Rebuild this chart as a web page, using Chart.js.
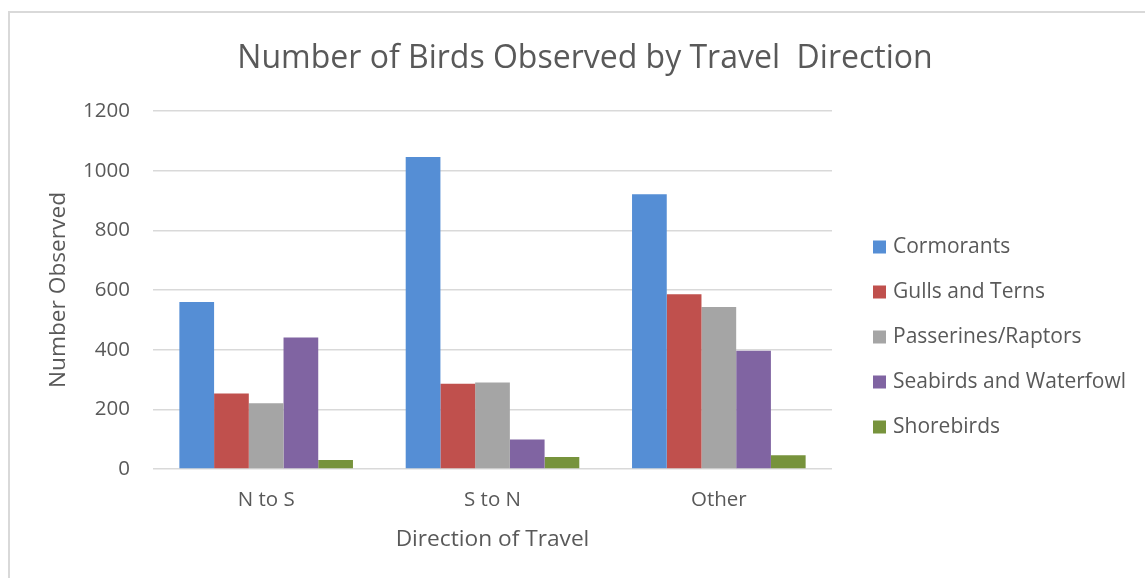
<!DOCTYPE html>
<html>
<head>
<meta charset="utf-8">
<title>Number of Birds Observed by Travel Direction</title>
<script src="https://cdn.jsdelivr.net/npm/chart.js@4/dist/chart.umd.min.js"></script>
<style>
  html, body { margin: 0; padding: 0; background: #ffffff; overflow: hidden; }
  #frame {
    position: absolute;
    left: 8px;
    top: 11px;
    border-left: 2px solid #d9d9d9;
    border-top: 2px solid #d9d9d9;
    width: 1150px;
    height: 565px;
  }
  #chart { display: block; }
</style>
</head>
<body>
<div id="frame"><canvas id="chart" width="1150" height="565"></canvas></div>
<script>
// Categories and counts per bird group
const directions = ["N to S", "S to N", "Other"];
const groups = ["Cormorants", "Gulls and Terns", "Passerines/Raptors", "Seabirds and Waterfowl", "Shorebirds"];
const cormorants = [560, 1046, 921];
const gullsTerns = [253, 286, 586];
const passerinesRaptors = [220, 290, 543];
const seabirdsWaterfowl = [441, 99, 396];
const shorebirds = [30, 40, 46];
const yTicks = [0, 200, 400, 600, 800, 1000, 1200];

const seriesValues = [cormorants, gullsTerns, passerinesRaptors, seabirdsWaterfowl, shorebirds];
const seriesColors = ["#558ed5", "#c0504d", "#a5a5a5", "#8064a2", "#77933c"];

const textColor = "#595959";
const gridColor = "#d9d9d9";
const fontFamily = "'Open Sans', 'Noto Sans', sans-serif";

// Legend drawn in its own layout box on the right of the plot
const LEGEND_WIDTH = 328;
const sideLegend = {
  id: 'sideLegend',
  beforeInit(chart) {
    const box = {
      position: 'right',
      weight: 0,
      fullSize: false,
      options: {},
      width: 0,
      height: 0,
      isHorizontal() { return false; },
      update(maxWidth, maxHeight) {
        box.width = LEGEND_WIDTH;
        box.height = maxHeight;
      },
      draw() {
        const ctx = chart.ctx;
        ctx.save();
        ctx.font = "21px " + fontFamily;
        ctx.textBaseline = 'middle';
        ctx.textAlign = 'left';
        chart.data.datasets.forEach((ds, i) => {
          const cy = box.top + 136 + i * 45;
          ctx.fillStyle = ds.backgroundColor;
          ctx.fillRect(box.left + 41, cy - 6.5, 13, 13);
          ctx.fillStyle = textColor;
          ctx.fillText(ds.label, box.left + 61, cy);
        });
        ctx.restore();
      }
    };
    Chart.layouts.addBox(chart, box);
  }
};

const datasets = groups.map((name, i) => ({
  label: name,
  data: seriesValues[i],
  backgroundColor: seriesColors[i],
  borderWidth: 0,
  categoryPercentage: 0.767,
  barPercentage: 1.0
}));

new Chart(document.getElementById('chart'), {
  type: 'bar',
  data: { labels: directions, datasets },
  plugins: [sideLegend],
  options: {
    responsive: false,
    animation: false,
    devicePixelRatio: 1,
    layout: { padding: 0 },
    plugins: {
      legend: { display: false },
      tooltip: { enabled: false },
      title: {
        display: true,
        text: "Number of Birds Observed by Travel  Direction",
        color: textColor,
        font: { family: fontFamily, size: 32, weight: 'normal', lineHeight: 1.2 },
        padding: { top: 26.8, bottom: 32.8 }
      }
    },
    scales: {
      x: {
        grid: { display: false, drawTicks: false },
        border: { display: false },
        ticks: {
          color: textColor,
          padding: 18.7,
          font: { family: fontFamily, size: 20.5, lineHeight: 1.2 }
        },
        title: {
          display: true,
          text: "Direction of Travel",
          color: textColor,
          font: { family: fontFamily, size: 22.7, lineHeight: 1.2 },
          padding: { top: 4, bottom: 24.4 }
        },
        afterFit(scale) { scale.height = 109; }
      },
      y: {
        min: 0,
        max: 1200,
        grid: { color: gridColor, lineWidth: 1.5, drawTicks: false },
        border: { display: false },
        afterBuildTicks(scale) { scale.ticks = yTicks.map(v => ({ value: v })); },
        ticks: {
          color: textColor,
          padding: 23,
          font: { family: fontFamily, size: 20.5, lineHeight: 1.2 },
          callback: (value) => String(value)
        },
        title: {
          display: true,
          text: "Number Observed",
          color: textColor,
          font: { family: fontFamily, size: 22.7, lineHeight: 1.2 },
          padding: { top: 35.4, bottom: 0 }
        },
        afterFit(scale) { scale.width = 143; }
      }
    }
  }
});
</script>
</body>
</html>
